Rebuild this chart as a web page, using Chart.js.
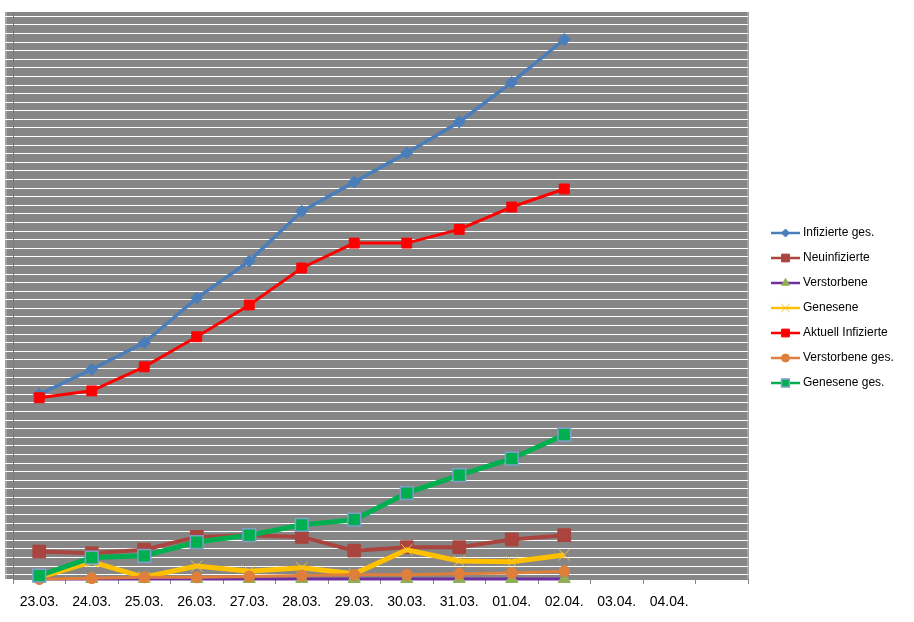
<!DOCTYPE html>
<html>
<head>
<meta charset="utf-8">
<script src="https://cdn.jsdelivr.net/npm/chart.js@4"></script>
<style>
  html, body { margin: 0; padding: 0; background: #fff; }
  #wrap { width: 914px; height: 622px; }
</style>
</head>
<body>
<div id="wrap"><canvas id="chart" width="914" height="622"></canvas></div>
<script>
// Daten
var tage = ['23.03.', '24.03.', '25.03.', '26.03.', '27.03.', '28.03.', '29.03.', '30.03.', '31.03.', '01.04.', '02.04.', '03.04.', '04.04.', ''];
var infizierteGes   = [215, 244, 275, 327, 370, 428, 462, 496, 532, 578, 628];
var neuinfizierte   = [32, 30, 34, 49, 51, 49, 33, 37, 37, 46, 51];
var verstorbene     = [0, 0, 0, 0, 0, 0, 0, 0, 0, 0, 0];
var genesene        = [2, 20, 2, 15, 9, 13, 6, 34, 21, 20, 28];
var aktuellInfiz    = [211, 219, 247, 282, 319, 362, 391, 391, 407, 433, 454];
var verstorbeneGes  = [0, 1, 2, 2, 3, 4, 5, 5, 6, 7, 9];
var geneseneGes     = [4, 25, 27, 43, 51, 63, 69, 100, 121, 140, 168];

// r = Markergroesse im Diagramm, lr = in der Legende
var serien = [
  { label: 'Infizierte ges.', data: infizierteGes, line: '#4A7EBB', width: 3.5, style: 'rectRot', r: 6, lr: 4, fill: '#4A7EBB', border: '#4A7EBB', bw: 1 },
  { label: 'Neuinfizierte', data: neuinfizierte, line: '#A9443F', width: 4, style: 'rect', r: 9, lr: 5.5, fill: '#A9443F', border: '#A9443F', bw: 1 },
  { label: 'Verstorbene', data: verstorbene, line: '#7030A0', width: 3, style: 'triangle', r: 7, lr: 4.5, fill: '#8FAE55', border: '#8FAE55', bw: 1 },
  { label: 'Genesene', data: genesene, line: '#FFC000', width: 5, style: 'crossRot', r: 8, lr: 6, fill: '#F2C53A', border: '#F2C53A', bw: 1 },
  { label: 'Aktuell Infizierte', data: aktuellInfiz, line: '#FF0000', width: 3, style: 'rect', r: 7, lr: 5.5, fill: '#FF0000', border: '#FF0000', bw: 1 },
  { label: 'Verstorbene ges.', data: verstorbeneGes, line: '#DE7F3C', width: 3, style: 'circle', r: 5.5, lr: 4, fill: '#DE7F3C', border: '#DE7F3C', bw: 1 },
  { label: 'Genesene ges.', data: geneseneGes, line: '#00B050', width: 5, style: 'rect', r: 9, lr: 5.5, fill: '#00B050', border: '#7F9FC8', bw: 1.5 }
];

var datasets = serien.map(function (s, i) {
  return {
    label: s.label,
    data: s.data,
    borderColor: s.line,
    borderWidth: s.width,
    backgroundColor: s.fill,
    pointStyle: s.style,
    pointRadius: s.r,
    pointBackgroundColor: s.fill,
    pointBorderColor: s.border,
    pointBorderWidth: s.bw,
    tension: 0,
    clip: false,
    order: serien.length - i   // spaetere Reihen oben
  };
});

// Hintergrund der Zeichenflaeche
var hintergrund = {
  id: 'hintergrund',
  beforeDraw: function (chart) {
    var a = chart.chartArea;
    var c = chart.ctx;
    c.save();
    c.fillStyle = '#868686';
    c.fillRect(a.left - 8, a.top, a.right - a.left + 8, a.bottom - a.top);
    c.fillStyle = '#a3a3a3';
    c.fillRect(a.left - 8, a.top, 2, a.bottom - a.top);
    c.fillRect(a.right - 1, a.top, 2, a.bottom - a.top);
    c.restore();
  }
};

// Legende rechts (Linie + Marker + Text)
var legende = {
  id: 'legende',
  afterDraw: function (chart) {
    var c = chart.ctx;
    c.save();
    c.font = '12px "Liberation Sans", Arial, sans-serif';
    c.textBaseline = 'middle';
    serien.forEach(function (s, i) {
      var y = 233 + i * 25;
      c.strokeStyle = s.line;
      c.lineWidth = 2.5;
      c.beginPath();
      c.moveTo(771, y);
      c.lineTo(800, y);
      c.stroke();
      c.fillStyle = s.fill;
      c.strokeStyle = s.border;
      c.lineWidth = s.bw;
      Chart.helpers.drawPoint(c, { pointStyle: s.style, radius: s.lr, rotation: 0, borderWidth: s.bw }, 785.5, y);
      c.fillStyle = '#000';
      c.fillText(s.label, 803, y);
    });
    c.restore();
  }
};

new Chart(document.getElementById('chart').getContext('2d'), {
  type: 'line',
  data: { labels: tage, datasets: datasets },
  plugins: [hintergrund, legende],
  options: {
    responsive: false,
    animation: false,
    layout: { padding: { left: 5, top: 12, right: 166, bottom: 0 } },
    plugins: { legend: { display: false }, tooltip: { enabled: false } },
    scales: {
      x: {
        offset: true,
        grid: { offset: true, drawOnChartArea: false, drawTicks: true, tickLength: 5, color: '#868686' },
        border: { color: '#868686' },
        ticks: { color: '#000', font: { family: '"Liberation Sans", Arial, sans-serif', size: 14 }, padding: 10, maxRotation: 0, autoSkip: false },
        afterFit: function (s) { s.height = 43; }
      },
      y: {
        min: 0,
        max: 660,
        afterBuildTicks: function (s) {
          var t = [];
          for (var v = 5; v < 660; v += 10) t.push({ value: v });
          s.ticks = t;
        },
        grid: { color: '#ffffff', lineWidth: 1, tickLength: 8, drawTicks: true },
        border: { color: '#7a7a7a', width: 1 },
        ticks: { display: false },
        afterFit: function (s) { s.width = 8; }
      }
    }
  }
});
</script>
</body>
</html>
